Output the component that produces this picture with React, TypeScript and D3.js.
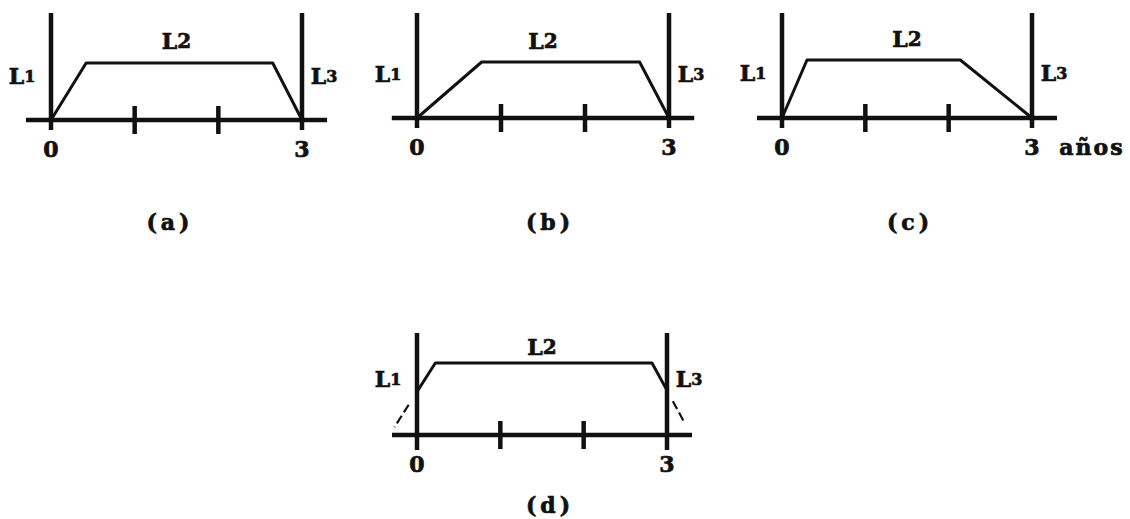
import React, { useEffect, useRef } from 'react';
import * as d3 from 'd3';

// data
const captions = ['(a)', '(b)', '(c)', '(d)'];
const tickYears = [1, 2];
const endYears = [0, 3];
const endLabels = ['0', '3'];
const segmentNames = ['1', '2', '3'];
const unitLabel = 'años';

// perfiles (años, nivel relativo)
const profileA: [number, number][] = [[0, 0], [0.42, 1], [2.65, 1], [3, 0]];
const profileB: [number, number][] = [[0, 0], [0.77, 1], [2.65, 1], [3, 0]];
const profileC: [number, number][] = [[0, 0], [0.3, 1], [2.14, 1], [3, 0]];
const profileD: [number, number][] = [[0, 0.6], [0.22, 1], [2.82, 1], [3, 0.62]];
const dashedLeftD: [number, number][] = [[-0.1, 0.42], [-0.27, 0.11]];
const dashedRightD: [number, number][] = [[3.07, 0.47], [3.21, 0.17]];

const profiles = [profileA, profileB, profileC, profileD];
const dashed: [number, number][][][] = [[], [], [], [dashedLeftD, dashedRightD]];

// layout de cada panel
const layout = [
	{ x0: 51, x3: 302, base: 120, unit: 57, top: 13, below: 10, capX: 170, capY: 222, l2: 22 },
	{ x0: 417, x3: 669, base: 118, unit: 56, top: 13, below: 10, capX: 550, capY: 222, l2: 21 },
	{ x0: 782, x3: 1032, base: 118, unit: 58, top: 13, below: 10, capX: 910, capY: 222, l2: 21 },
	{ x0: 417, x3: 667, base: 435, unit: 72, top: 333, below: 15, capX: 550, capY: 505, l2: 16 }
];

const width = 1130;
const height = 519;
const ink = '#111';
const font = '"DejaVu Serif", "Liberation Serif", serif';

function styleText(t: any, size: number) {
	return t
		.attr('dominant-baseline', 'central')
		.attr('font-family', font)
		.attr('font-weight', 'bold')
		.attr('font-size', size)
		.attr('fill', ink)
		.attr('stroke', ink)
		.attr('stroke-width', 0.7);
}

export default function App() {
	const ref = useRef<SVGSVGElement>(null);

	useEffect(() => {
		const svg = d3.select(ref.current);
		svg.selectAll('*').remove();

		svg.append('rect').attr('width', width).attr('height', height).attr('fill', '#fff');

		layout.forEach((p, i) => {
			const g = svg.append('g');
			const x = d3.scaleLinear().domain([0, 3]).range([p.x0, p.x3]);
			const y = d3.scaleLinear().domain([0, 1]).range([p.base, p.base - p.unit]);

			// eje horizontal
			g.append('line')
				.attr('x1', x(-0.3))
				.attr('x2', x(3.3))
				.attr('y1', p.base)
				.attr('y2', p.base)
				.attr('stroke', ink)
				.attr('stroke-width', 4.5);

			// ticks intermedios
			g.selectAll('.tick')
				.data(tickYears)
				.enter()
				.append('line')
				.attr('x1', d => x(d))
				.attr('x2', d => x(d))
				.attr('y1', p.base - 14)
				.attr('y2', p.base + 14)
				.attr('stroke', ink)
				.attr('stroke-width', 4.5);

			// verticales en 0 y 3
			g.selectAll('.vert')
				.data(endYears)
				.enter()
				.append('line')
				.attr('x1', d => x(d))
				.attr('x2', d => x(d))
				.attr('y1', p.top)
				.attr('y2', p.base + p.below)
				.attr('stroke', ink)
				.attr('stroke-width', 4.5);

			const line = d3
				.line<[number, number]>()
				.x(d => x(d[0]))
				.y(d => y(d[1]));

			g.append('path')
				.datum(profiles[i])
				.attr('d', line)
				.attr('fill', 'none')
				.attr('stroke', ink)
				.attr('stroke-width', 3)
				.attr('stroke-linejoin', 'round');

			dashed[i].forEach(seg => {
				g.append('path')
					.datum(seg)
					.attr('d', line)
					.attr('fill', 'none')
					.attr('stroke', ink)
					.attr('stroke-width', 2.2)
					.attr('stroke-dasharray', '9,4');
			});

			// etiquetas 0 y 3
			styleText(
				g.selectAll('.lab')
					.data(endYears)
					.enter()
					.append('text')
					.attr('x', d => x(d))
					.attr('y', p.base + 29)
					.attr('text-anchor', 'middle'),
				22
			).text((d, k) => endLabels[k]);

			// L1, L2, L3
			const lpos = [
				{ x: p.x0 - 29, y: y(0.78), size: 16 },
				{ x: x(1.5), y: y(1) - p.l2, size: 20 },
				{ x: p.x3 + 22, y: y(0.78), size: 16 }
			];
			lpos.forEach((l, k) => {
				const t = styleText(
					g.append('text').attr('x', l.x).attr('y', l.y).attr('text-anchor', 'middle'),
					22
				);
				t.append('tspan').text('L');
				t.append('tspan').attr('font-size', l.size).text(segmentNames[k]);
			});

			if (i === 2) {
				styleText(
					g.append('text')
						.attr('x', p.x3 + 60)
						.attr('y', p.base + 29)
						.attr('text-anchor', 'middle')
						.attr('letter-spacing', 2),
					22
				).text(unitLabel);
			}

			styleText(
				g.append('text')
					.attr('x', p.capX)
					.attr('y', p.capY)
					.attr('text-anchor', 'middle')
					.attr('letter-spacing', 4),
				22
			).text(captions[i]);
		});
	}, []);

	return (
		<svg
			ref={ref}
			width={width}
			height={height}
			style={{ position: 'absolute', left: 0, top: 0 }}
		/>
	);
}
